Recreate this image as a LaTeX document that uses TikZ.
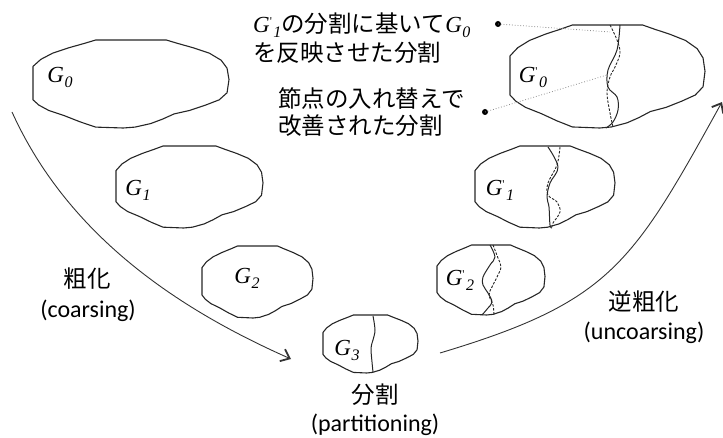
\documentclass[tikz,border=0pt]{standalone}
\usepackage{fontspec}
\usetikzlibrary{arrows.meta}
\newfontfamily\jp{Noto Sans CJK JP}
\newfontfamily\lat{Carlito}
\newfontfamily\gf{Liberation Serif}

% graph names G_i and G'_i
\newcommand\Gs[1]{{\gf\itshape\fontsize{23}{23}\selectfont G\kern0.5pt\raisebox{-5pt}{\fontsize{16}{16}\selectfont #1}}}
\newcommand\Gp[1]{{\gf\itshape\fontsize{23}{23}\selectfont G\raisebox{7pt}{\fontsize{12}{12}\selectfont\upshape '}\kern1.5pt\raisebox{-5pt}{\fontsize{16}{16}\selectfont #1}}}

\tikzset{
  outline/.style={draw=black!85, line width=1.1pt, line join=round},
  cutline/.style={draw=black!85, line width=1pt, line join=round},
  cutdash/.style={draw=black!85, line width=0.9pt, dash pattern=on 2.5pt off 1.5pt},
  leader/.style={draw=black!45, line width=0.8pt, dotted},
  flow/.style={draw=black!80, line width=0.9pt},
  jplabel/.style={font=\jp\fontsize{23.5}{28}\selectfont, inner sep=0pt, text height=20pt, text depth=3pt},
  latlabel/.style={font=\lat\fontsize{24}{28}\selectfont, inner sep=0pt},
  glabel/.style={inner sep=0pt},
  dotmark/.style={circle, fill=black, inner sep=0pt, minimum size=6pt},
}

% irregular egg-shaped outline of a graph: left, top, width, height
\newcommand\blob[4]{%
  \begin{scope}[shift={(#1,#2)}, xscale=#3, yscale=#4]
    \draw[outline] (0,0.68) -- (0,0.30) -- (0.04,0.22) -- (0.10,0.15) -- (0.18,0.09)
      -- (0.26,0.04) -- (0.32,0.0) -- (0.68,0.0) -- (0.74,0.04) -- (0.82,0.09)
      -- (0.90,0.15) -- (0.96,0.23) -- (0.99,0.32) -- (1.0,0.45) -- (0.99,0.60)
      -- (0.95,0.68) -- (0.88,0.74) -- (0.80,0.80) -- (0.72,0.84) -- (0.66,0.90)
      -- (0.60,0.95) -- (0.52,0.99) -- (0.46,1.0) -- (0.32,0.99) -- (0.24,0.93)
      -- (0.16,0.86) -- (0.08,0.80) -- (0.03,0.74) -- cycle;
  \end{scope}}

\begin{document}
\begin{tikzpicture}[x=1pt, y=-1pt]
\useasboundingbox (0,0) rectangle (723,438);

% coarsening side
\blob{33}{40}{196}{88}
\blob{116}{146}{147}{82}
\blob{202}{246}{111}{72}
\node[glabel] (g0) at (60,77) {\Gs{0}};
\node[glabel] (g1) at (138,190) {\Gs{1}};
\node[glabel] (g2) at (247,278) {\Gs{2}};

% coarsest graph and its partition
\blob{323}{315}{95}{58}
\draw[cutline] plot[smooth, tension=0.6] coordinates {(373,316) (375,330) (373,340) (371,348) (372,362) (373,372)};
\node[glabel] (g3) at (347,350) {\Gs{3}};

% uncoarsening side
\blob{510}{25}{195}{103}
\draw[cutline] plot[smooth, tension=0.6] coordinates {(620,25) (617,50) (608,70) (608,87) (617,97) (618,110) (613,122) (606,128)};
\draw[cutdash] plot[smooth, tension=0.6] coordinates {(610,25) (617,40) (620,53) (615,67) (610,77) (607,93) (610,113) (613,127)};
\node[glabel] (h0) at (533,77) {\Gp{0}};

\blob{475}{146}{140}{82}
\draw[cutline] plot[smooth, tension=0.6] coordinates {(548,147) (558,167) (550,183) (547,197) (549,207) (550,225) (552,228)};
\draw[cutdash] plot[smooth, tension=0.6] coordinates {(560,147) (557,165) (548,183) (548,195) (557,202) (560,212) (553,223) (552,227)};
\node[glabel] (h1) at (500,190) {\Gp{1}};

\blob{437}{245}{108}{70}
\draw[cutline] plot[smooth, tension=0.6] coordinates {(490,245) (495,257) (490,265) (483,277) (483,285) (488,293) (492,302) (488,308) (482,315)};
\draw[cutdash] plot[smooth, tension=0.6] coordinates {(493,245) (498,258) (501,267) (497,277) (492,287) (489,295) (493,305) (494,315)};
\node[glabel] (h2) at (460,280) {\Gp{2}};

% phase arrows
\coordinate (la0) at (12,112);
\coordinate (la1) at (291,359);
\draw[flow, -{Straight Barb[length=8pt, width=13pt, line width=1.8pt]}]
  (la0) .. controls (70,240) and (185,312) .. (la1);
\coordinate (ra0) at (440,353);
\coordinate (ra1) at (722,102);
\draw[flow, -{Straight Barb[length=8pt, width=13pt, line width=1.8pt]}]
  (ra0) .. controls (610,302) and (632,265) .. (ra1);

% phase labels
\node[jplabel] (tc) at (87,279) {粗化};
\node[latlabel] (tce) at (88,311) {(coarsing)};
\node[jplabel] (tp) at (375,395) {分割};
\node[latlabel] (tpe) at (375,425) {(partitioning)};
\node[jplabel] (tu) at (644,302) {逆粗化};
\node[latlabel] (tue) at (644,333) {(uncoarsing)};

% annotations with dotted leaders
\node[jplabel, anchor=west] (n1a) at (253,24) {\Gp{1}の分割に基いて\Gs{0}};
\node[jplabel, anchor=west] (n1b) at (253,53) {を反映させた分割};
\node[jplabel, anchor=west] (n2a) at (278,99) {節点の入れ替えで};
\node[jplabel, anchor=west] (n2b) at (278,126) {改善された分割};
\node[dotmark] (d1) at (498,24) {};
\node[dotmark] (d2) at (485,112) {};
\coordinate (p1) at (610,32);
\coordinate (p2) at (607,75);
\draw[leader] (d1.center) -- (p1);
\draw[leader] (d2.center) -- (p2);
\end{tikzpicture}
\end{document}
